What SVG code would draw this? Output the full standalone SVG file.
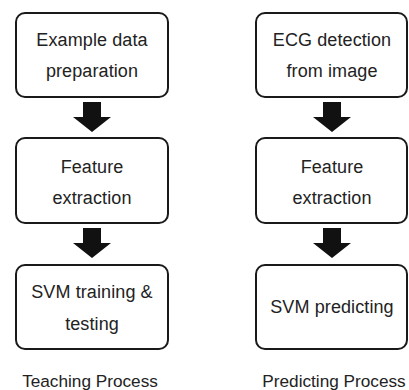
<svg xmlns="http://www.w3.org/2000/svg" width="409" height="390" viewBox="0 0 409 390">
<style>
.box{fill:#fff;stroke:#1a1a1a;stroke-width:2}
.t{font-family:"Liberation Sans",Arial,sans-serif;font-size:18px;letter-spacing:0.1px;fill:#222;text-anchor:middle}
.lbl{font-family:"Liberation Sans",Arial,sans-serif;font-size:17.2px;fill:#222;text-anchor:middle}
.arr{fill:#111}
</style>
<defs>
<path id="arrow" d="M-9,0 H9 V15 H19 L0,30 L-19,15 H-9 Z"/>
</defs>
<rect width="409" height="390" fill="#fff"/>
<g id="connectors">
<use href="#arrow" class="arr" x="92" y="102"/>
<use href="#arrow" class="arr" x="92" y="228"/>
<use href="#arrow" class="arr" x="332" y="102"/>
<use href="#arrow" class="arr" x="332" y="228"/>
</g>
<g id="teach1"><rect class="box" x="16" y="13" width="152" height="84" rx="9"/>
<text class="t" x="92" y="46">Example data</text><text class="t" x="92" y="77">preparation</text></g>
<g id="teach2"><rect class="box" x="16" y="138" width="152" height="85" rx="9"/>
<text class="t" x="92" y="173">Feature</text><text class="t" x="92" y="204">extraction</text></g>
<g id="teach3"><rect class="box" x="16" y="265" width="152" height="84" rx="9"/>
<text class="t" x="92" y="298">SVM training &amp;</text><text class="t" x="92" y="330">testing</text></g>
<g id="pred1"><rect class="box" x="256" y="13" width="151" height="84" rx="9"/>
<text class="t" x="332" y="46">ECG detection</text><text class="t" x="332" y="77">from image</text></g>
<g id="pred2"><rect class="box" x="256" y="138" width="151" height="85" rx="9"/>
<text class="t" x="332" y="173">Feature</text><text class="t" x="332" y="204">extraction</text></g>
<g id="pred3"><rect class="box" x="256" y="265" width="151" height="84" rx="9"/>
<text class="t" x="332" y="313">SVM predicting</text></g>
<g id="labels">
<text class="lbl" x="90" y="387">Teaching Process</text>
<text class="lbl" x="334" y="387">Predicting Process</text>
</g>
</svg>
